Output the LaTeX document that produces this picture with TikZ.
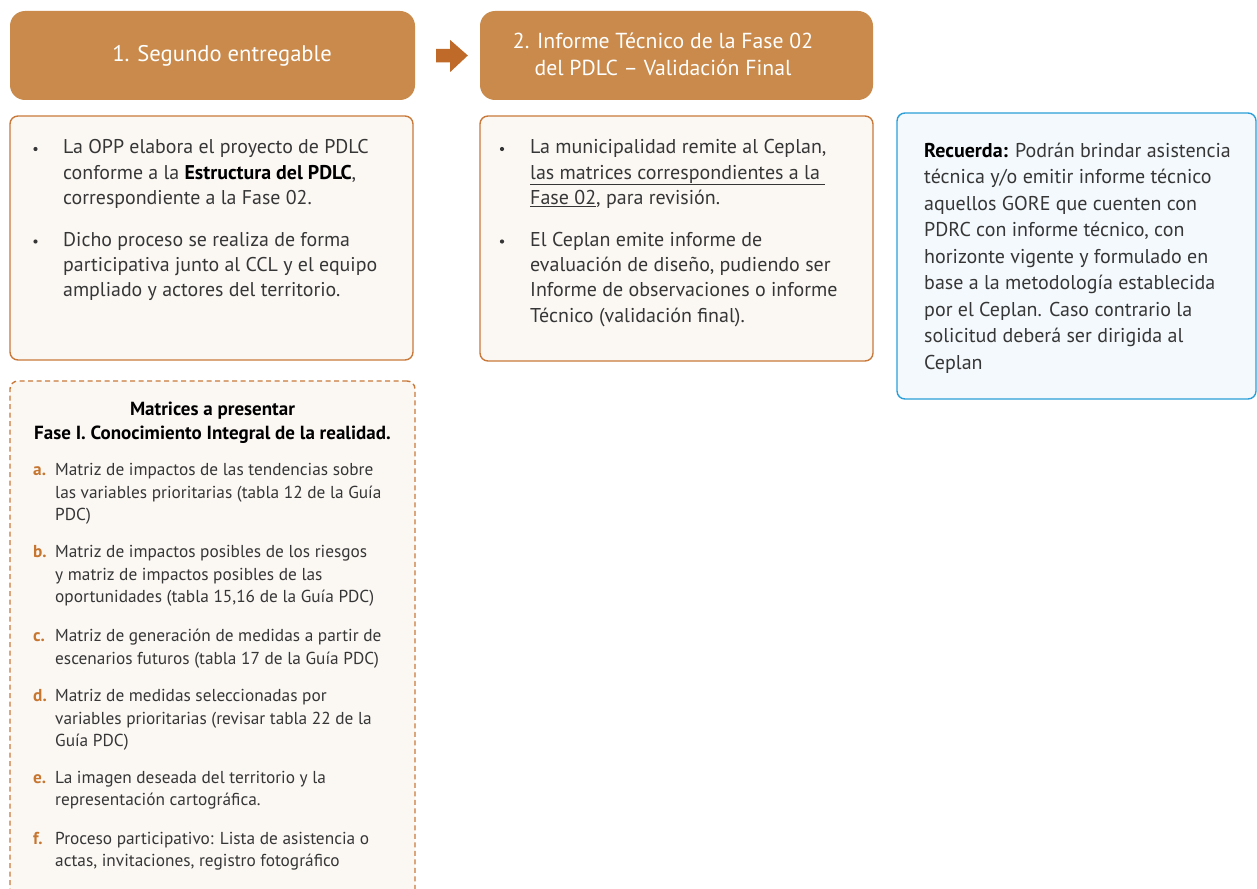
\documentclass[tikz,border=0pt]{standalone}
\usepackage{fontspec}
\setmainfont{PT Sans}
\usetikzlibrary{calc}
\definecolor{hdr}{HTML}{C98A4B}
\definecolor{arr}{HTML}{C06A2A}
\definecolor{brd}{HTML}{C97A3A}
\definecolor{lblc}{HTML}{C77630}
\definecolor{pale}{HTML}{FBF8F4}
\definecolor{bbrd}{HTML}{2B9FD9}
\definecolor{bfill}{HTML}{F4F9FD}
\definecolor{txt}{HTML}{363636}
\tikzset{
  hdrbox/.style={fill=hdr, rounded corners=15pt, inner sep=0pt},
  hdrtxt/.style={inner sep=0pt, text=white, align=center},
  panel/.style={draw=brd, line width=1.4pt, fill=pale, rounded corners=8pt, inner sep=0pt},
  dpanel/.style={draw=brd, line width=1.4pt, fill=pale, rounded corners=8pt, inner sep=0pt, dash pattern=on 5pt off 3.5pt},
  bpanel/.style={draw=bbrd, line width=1.4pt, fill=bfill, rounded corners=8pt, inner sep=0pt},
  bodytxt/.style={anchor=north west, inner sep=0pt, align=left, text=txt,
     font=\fontsize{19.9}{25.3}\selectfont, yshift=17.71pt},
  bodytxtb/.style={anchor=north west, inner sep=0pt, align=left, text=txt,
     font=\fontsize{20}{25.3}\selectfont, yshift=17.71pt},
  bluetxt/.style={anchor=north west, inner sep=0pt, align=left, text=txt,
     font=\fontsize{20}{26.5}\selectfont, yshift=18.55pt},
  smalltxt/.style={anchor=north west, inner sep=0pt, align=left, text=txt,
     font=\fontsize{17.3}{22.3}\selectfont, yshift=15.61pt},
  ttltxt/.style={anchor=north, inner sep=0pt, align=center, text=black,
     font=\fontsize{19}{23.5}\selectfont\bfseries, yshift=16.45pt},
  bul/.style={circle, fill=txt, inner sep=0pt, minimum size=4.2pt},
  lbl/.style={anchor=base west, inner sep=0pt, text=lblc, font=\fontsize{17.3}{17}\selectfont\bfseries},
}
\begin{document}
\begin{tikzpicture}[x=1pt,y=-1pt]
\useasboundingbox (0,0) rectangle (1257,888);
\clip (0,0) rectangle (1257,888);
\fill[white] (0,0) rectangle (1257,888);

% headers
\node[hdrbox, minimum width=405pt, minimum height=89pt] (h1) at (212.5,55.5) {};
\node[hdrtxt, font=\fontsize{22.6}{28}\selectfont] (h1t) at (222,56) {1. Segundo entregable};
\node[hdrbox, minimum width=393pt, minimum height=89pt] (h2) at (676.5,55.5) {};
\node[hdrtxt, font=\fontsize{21.7}{27}\selectfont] (h2t) at (663,54.5) {2. Informe Técnico de la Fase 02\\del PDLC – Validación Final};

% arrow between headers
\fill[arr] ($(h1.east)+(21,-6.5)$) -- ($(h1.east)+(35,-6.5)$) -- ($(h1.east)+(35,-15.5)$)
   -- ($(h2.west)+(-12,0)$) -- ($(h1.east)+(35,16.5)$) -- ($(h1.east)+(35,7)$)
   -- ($(h1.east)+(21,7)$) -- cycle;

% panels
\node[panel, minimum width=403pt, minimum height=244pt] (p1) at (211.5,238) {};
\node[panel, minimum width=393pt, minimum height=245pt] (p2) at (676.5,238.5) {};
\node[bpanel, minimum width=359pt, minimum height=286pt] (p3) at (1076.5,256) {};
\node[dpanel, minimum width=405pt, minimum height=560pt] (p4) at (212.5,661) {};

% panel 1 text
\node[bul] (b11) at (35.5,149) {};
\node[bodytxt] (t11) at (63,153.5) {\strut La OPP elabora el proyecto de PDLC\\conforme a la {\color{black}\bfseries Estructura del PDLC},\\correspondiente a la Fase 02.};
\node[bul] (b12) at (35.5,241.5) {};
\node[bodytxt] (t12) at (63,246) {\strut Dicho proceso se realiza de forma\\participativa junto al CCL y el equipo\\ampliado y actores del territorio.};

% panel 2 text
\node[bul] (b21) at (502,149) {};
\node[bodytxtb] (t21) at (530,153.5) {\strut La municipalidad remite al Ceplan,\\\underline{las matrices correspondientes a la }\\\underline{Fase 02}, para revisión.};
\node[bul] (b22) at (502,241.5) {};
\node[bodytxtb] (t22) at (530,246) {\strut El Ceplan emite informe de\\evaluación de diseño, pudiendo ser\\Informe de observaciones o informe\\Técnico (validación final).};

% blue panel text
\node[bluetxt] (t31) at (924,157) {\strut{\color{black}\bfseries Recuerda:} Podrán brindar asistencia\\técnica y/o emitir informe técnico\\aquellos GORE que cuenten con\\PDRC con informe técnico, con\\horizonte vigente y formulado en\\base a la metodología establecida\\por el Ceplan. Caso contrario la\\solicitud deberá ser dirigida al\\Ceplan};

% dashed panel
\node[ttltxt] (tt) at (212.5,415.5) {\strut Matrices a presentar\\Fase I. Conocimiento Integral de la realidad.};
\node[lbl] (la) at (33,475.5) {a.};
\node[smalltxt] (ia) at (55,475.5) {\strut Matriz de impactos de las tendencias sobre\\las variables prioritarias (tabla 12 de la Guía\\PDC)};
\node[lbl] (lb) at (33,557.5) {b.};
\node[smalltxt] (ib) at (55,557.5) {\strut Matriz de impactos posibles de los riesgos\\y matriz de impactos posibles de las\\oportunidades (tabla 15,16 de la Guía PDC)};
\node[lbl] (lc) at (33,641.5) {c.};
\node[smalltxt] (ic) at (55,641.5) {\strut Matriz de generación de medidas a partir de\\escenarios futuros (tabla 17 de la Guía PDC)};
\node[lbl] (ld) at (33,701.5) {d.};
\node[smalltxt] (id) at (55,701.5) {\strut Matriz de medidas seleccionadas por\\variables prioritarias (revisar tabla 22 de la\\Guía PDC)};
\node[lbl] (le) at (33,783) {e.};
\node[smalltxt] (ie) at (55,783) {\strut La imagen deseada del territorio y la\\representación cartográfica.};
\node[lbl] (lf) at (33,844) {f.};
\node[smalltxt] (if) at (55,844) {\strut Proceso participativo: Lista de asistencia o\\actas, invitaciones, registro fotográfico};
\end{tikzpicture}
\end{document}
